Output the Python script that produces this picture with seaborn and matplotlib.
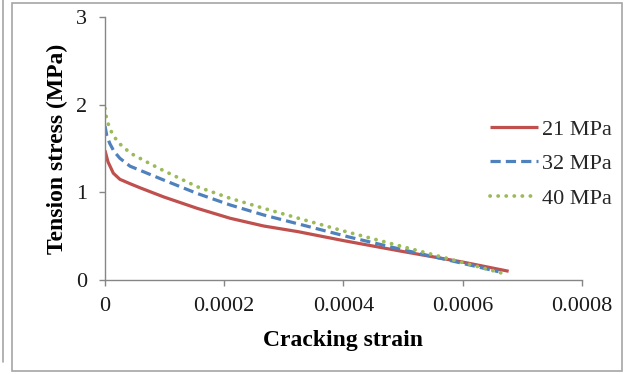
import numpy as np
import pandas as pd
import matplotlib
matplotlib.use("Agg")
import matplotlib.pyplot as plt
import seaborn as sns
from matplotlib.patches import Rectangle
from matplotlib.lines import Line2D

# ---- data ----
x21 = [0, 0.000005, 0.000014, 0.000025, 0.000042, 0.00006, 0.000098, 0.000154, 0.00021, 0.000266, 0.000324, 0.0004, 0.0005, 0.0006, 0.000677]
y21 = [1.48, 1.35, 1.22, 1.15, 1.10, 1.05, 0.95, 0.82, 0.705, 0.617, 0.552, 0.45, 0.325, 0.205, 0.10]

x32 = [0, 0.000003, 0.000008, 0.000015, 0.000025, 0.000042, 0.000098, 0.000154, 0.00021, 0.000266, 0.000316, 0.00041, 0.0005, 0.0006, 0.00066]
y32 = [1.76, 1.65, 1.56, 1.47, 1.39, 1.30, 1.143, 0.99, 0.857, 0.743, 0.655, 0.49, 0.345, 0.19, 0.095]

x40 = [0, 0.000002, 0.000006, 0.000011, 0.00002, 0.00003, 0.000045, 0.000075, 0.000098, 0.000154, 0.00021, 0.000266, 0.000322, 0.0004, 0.0005, 0.0006, 0.000665]
y40 = [1.96, 1.87, 1.77, 1.69, 1.59, 1.52, 1.44, 1.33, 1.25, 1.067, 0.933, 0.819, 0.71, 0.56, 0.38, 0.20, 0.08]

series_labels = ["21 MPa", "32 MPa", "40 MPa"]
x_ticks = [0, 0.0002, 0.0004, 0.0006, 0.0008]
x_tick_labels = ["0", "0.0002", "0.0004", "0.0006", "0.0008"]
y_ticks = [0, 1, 2, 3]
y_tick_labels = ["0", "1", "2", "3"]
x_title = "Cracking strain"
y_title = "Tension stress (MPa)"

sns.set_theme(style="white")
plt.rcParams["font.family"] = ["Liberation Serif", "DejaVu Serif"]

fig = plt.figure(figsize=(6.26, 3.74), dpi=100)
ax = fig.add_axes([0.1677, 0.2513, 0.762, 0.7024])

colors = ["#C0504D", "#4F81BD", "#9BBB59"]
widths = [2.3, 2.3, 2.7]
styles = [
    dict(linestyle="-", solid_capstyle="butt"),
    dict(linestyle=(0, (3.2, 1.6)), dash_capstyle="butt"),
    dict(linestyle=(0, (0.05, 2.1)), dash_capstyle="round"),
]
data = [(x21, y21), (x32, y32), (x40, y40)]
for (xs, ys), lab, c, w, st in zip(data, series_labels, colors, widths, styles):
    df = pd.DataFrame({"x": xs, "y": ys})
    sns.lineplot(data=df, x="x", y="y", ax=ax, color=c, lw=w, sort=False,
                 label=lab, legend=False, **st)

ax.set_xlim(0, 0.0008)
ax.set_ylim(0, 3)
ax.set_xticks(x_ticks)
ax.set_xticklabels(x_tick_labels)
ax.set_yticks(y_ticks)
ax.set_yticklabels(y_tick_labels)

for s in ["top", "right"]:
    ax.spines[s].set_visible(False)
for s in ["left", "bottom"]:
    ax.spines[s].set_color("#868686")
    ax.spines[s].set_linewidth(1.0)
ax.tick_params(axis="both", which="major", direction="out", length=4,
               width=1.0, color="#868686", labelsize=16, labelcolor="#1a1a1a",
               bottom=True, left=True)
ax.tick_params(axis="x", pad=8)
ax.tick_params(axis="y", pad=9)

ax.set_xlabel(x_title, fontsize=17, fontweight="bold", color="black")
ax.set_ylabel(y_title, fontsize=17, fontweight="bold", color="black")
ax.xaxis.set_label_coords(0.5, -0.19)
ax.yaxis.set_label_coords(-0.078, 0.5)

handles = []
for c, w, st in zip(colors, widths, styles):
    handles.append(Line2D([], [], color=c, lw=w, **st))
leg = ax.legend(handles, series_labels, loc="center right",
                bbox_to_anchor=(1.009, 0.562), bbox_transform=fig.transFigure,
                frameon=False, fontsize=16, handlelength=2.2, handletextpad=0.15,
                labelspacing=0.63)

# outer chart frame
fig.patches.append(Rectangle((12 / 626, 1 - 371 / 374), 610 / 626, 368 / 374,
                             transform=fig.transFigure, fill=False,
                             edgecolor="#a6a6a6", lw=1.2))
fig.lines.append(Line2D([2.5 / 626, 2.5 / 626], [1 - 362 / 374, 1.0],
                        transform=fig.transFigure, color="#a6a6a6", lw=1.2))

fig.savefig("out.png", dpi=100)
